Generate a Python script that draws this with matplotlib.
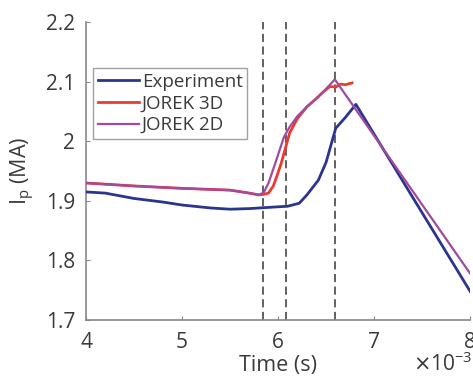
import matplotlib
matplotlib.use("Agg")
import matplotlib.pyplot as plt

plt.rcParams['font.family'] = ['Open Sans', 'DejaVu Sans']

# Time in units of 1e-3 s
t_exp = [4.0, 4.2, 4.5, 4.8, 5.0, 5.3, 5.5, 5.7, 5.9, 6.1, 6.22, 6.3, 6.42, 6.5, 6.6, 6.7, 6.81, 8.0]
ip_exp = [1.915, 1.913, 1.904, 1.898, 1.893, 1.888, 1.886, 1.887, 1.889, 1.891, 1.896, 1.910, 1.935, 1.965, 2.022, 2.040, 2.062, 1.748]

t_3d = [4.0, 4.5, 5.0, 5.5, 5.7, 5.8, 5.85, 5.9, 5.95, 5.99, 6.03, 6.07, 6.12, 6.2, 6.3, 6.4, 6.47, 6.54, 6.6, 6.65, 6.7, 6.77]
ip_3d = [1.930, 1.925, 1.921, 1.918, 1.913, 1.910, 1.911, 1.913, 1.925, 1.943, 1.962, 1.985, 2.014, 2.038, 2.058, 2.072, 2.083, 2.092, 2.091, 2.096, 2.095, 2.098]

t_2d = [4.0, 4.5, 5.0, 5.5, 5.7, 5.8, 5.85, 5.9, 5.97, 6.06, 6.12, 6.2, 6.3, 6.4, 6.47, 6.54, 6.59, 8.0]
ip_2d = [1.930, 1.925, 1.921, 1.918, 1.913, 1.910, 1.914, 1.930, 1.963, 2.007, 2.024, 2.042, 2.058, 2.072, 2.083, 2.095, 2.104, 1.778]

vlines_t = [5.84, 6.08, 6.59]

x_ticks = [4, 5, 6, 7, 8]
y_ticks = [1.7, 1.8, 1.9, 2.0, 2.1, 2.2]
y_ticklabels = ['1.7', '1.8', '1.9', '2', '2.1', '2.2']

fig = plt.figure(figsize=(4.73, 3.76), dpi=100)
ax = fig.add_axes([0.182, 0.149, 0.812, 0.792])

for xv in vlines_t:
    ax.axvline(xv, color='#555555', linestyle=(0, (4.5, 2.5)), linewidth=1.3, zorder=1)

ax.plot(t_exp, ip_exp, color='#2b3590', linewidth=2.0, label='Experiment', zorder=3)
ax.plot(t_3d, ip_3d, color='#ec3a30', linewidth=2.0, label='JOREK 3D', zorder=3)
ax.plot(t_2d, ip_2d, color='#a24a9e', linewidth=1.6, label='JOREK 2D', zorder=4)

ax.set_xlim(4, 8)
ax.set_ylim(1.7, 2.2)
ax.set_xticks(x_ticks)
ax.set_yticks(y_ticks)
ax.set_yticklabels(y_ticklabels)
ax.tick_params(direction='in', length=3, labelsize=15, colors='#888888', labelcolor='#3a3a3a')
ax.tick_params(axis='x', pad=9)
ax.tick_params(axis='y', pad=8)

for s in ['top', 'right']:
    ax.spines[s].set_visible(False)
for s in ['left', 'bottom']:
    ax.spines[s].set_color('#888888')
    ax.spines[s].set_linewidth(1.2)

ax.set_xlabel('Time (s)', fontsize=15.5, color='#3a3a3a', labelpad=1)
ax.set_ylabel(r'I$_\mathregular{p}$ (MA)', fontsize=15.5, color='#3a3a3a', labelpad=6)
fig.text(0.998, 0.062, r'$\times$10$^{\mathregular{-3}}$', ha='right', va='top',
         fontsize=15, color='#3a3a3a')

leg = ax.legend(loc='upper left', bbox_to_anchor=(0.018, 0.846), fontsize=13.5, frameon=True,
                fancybox=False, edgecolor='#888888', handlelength=2.2, handletextpad=0.15,
                borderpad=0.25, labelspacing=0.2, borderaxespad=0)
leg.get_frame().set_linewidth(1.0)
for txt in leg.get_texts():
    txt.set_color('#3a3a3a')

fig.savefig('out.png', dpi=100)
